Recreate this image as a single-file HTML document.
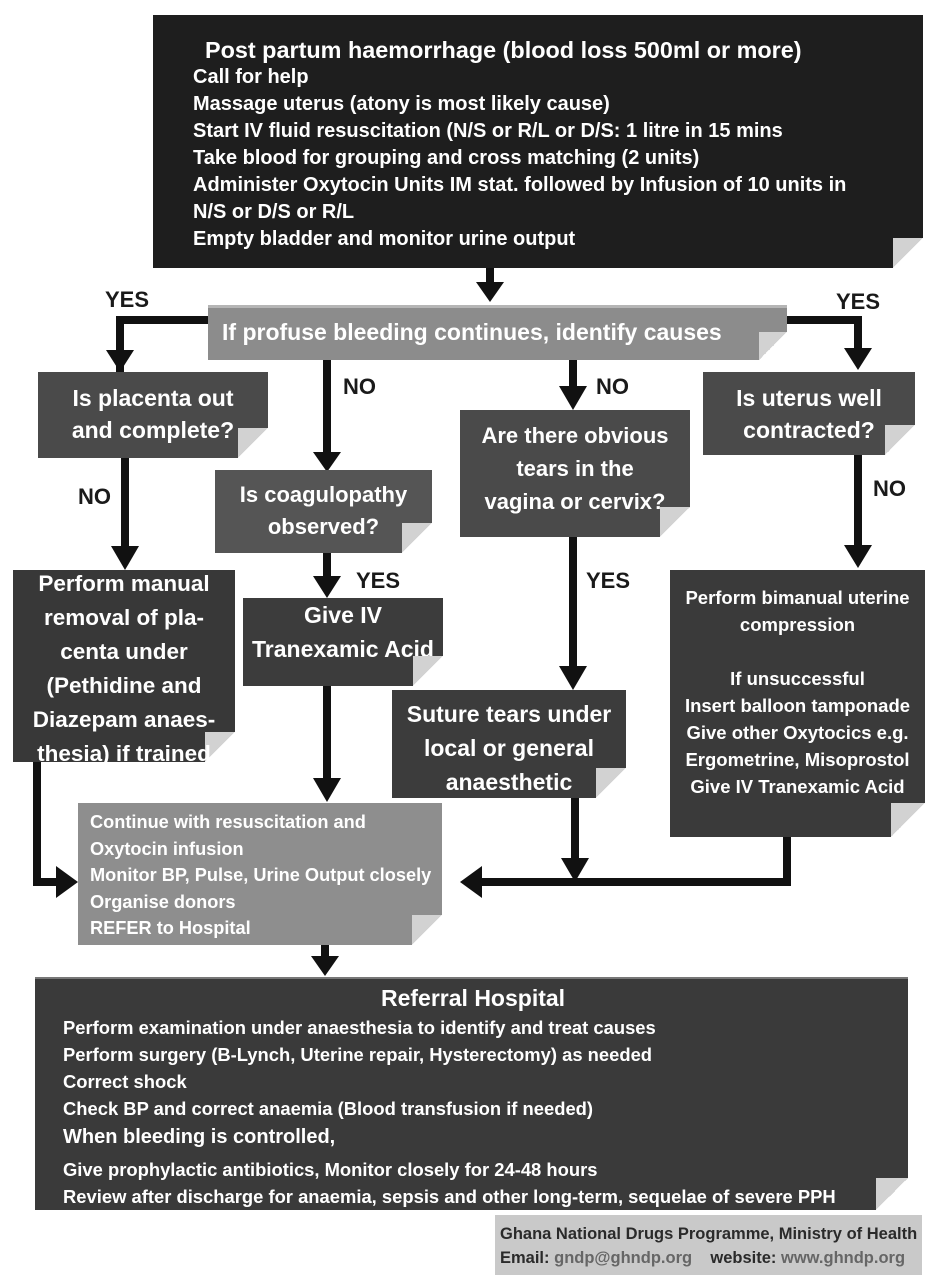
<!DOCTYPE html>
<html><head><meta charset="utf-8"><style>
body{margin:0;width:941px;height:1285px;background:#fff;position:relative;overflow:hidden;font-family:"Liberation Sans Narrow","Liberation Sans",sans-serif;font-weight:bold;color:#fff}
.b{position:absolute}
.f{position:absolute;right:0;bottom:0;width:30px;height:30px;background:linear-gradient(to bottom right,#d2d2d2 50%,#fff 50%)}
.t{position:absolute;white-space:nowrap}
.c{text-align:center;white-space:nowrap}
.lbl{position:absolute;color:#1a1a1a;font-size:22px}
</style></head><body>
<svg class="b" style="left:0;top:0" width="941" height="1285">
<g stroke="#111" stroke-width="8" fill="none">
<line x1="490" y1="265" x2="490" y2="285"/>
<polyline points="120,372 120,320 210,320"/>
<polyline points="787,320 858,320 858,350"/>
<line x1="327" y1="360" x2="327" y2="455"/>
<line x1="573" y1="360" x2="573" y2="390"/>
<line x1="125" y1="458" x2="125" y2="550"/>
<line x1="858" y1="455" x2="858" y2="548"/>
<line x1="327" y1="553" x2="327" y2="580"/>
<line x1="573" y1="537" x2="573" y2="670"/>
<line x1="327" y1="686" x2="327" y2="780"/>
<line x1="575" y1="798" x2="575" y2="862"/>
<polyline points="787,837 787,882 478,882"/>
<polyline points="37,762 37,882 60,882"/>
<line x1="325" y1="945" x2="325" y2="960"/>
</g>
<g fill="#111">
<polygon points="476,282 504,282 490,302"/>
<polygon points="106,350 134,350 120,372"/>
<polygon points="844,348 872,348 858,370"/>
<polygon points="313,452 341,452 327,472"/>
<polygon points="559,386 587,386 573,410"/>
<polygon points="111,546 139,546 125,570"/>
<polygon points="844,545 872,545 858,568"/>
<polygon points="313,576 341,576 327,598"/>
<polygon points="559,666 587,666 573,690"/>
<polygon points="313,778 341,778 327,802"/>
<polygon points="561,858 589,858 575,882"/>
<polygon points="482,866 482,898 460,882"/>
<polygon points="56,866 56,898 78,882"/>
<polygon points="311,956 339,956 325,976"/>
</g>
</svg>

<div class="b" style="left:153px;top:15px;width:770px;height:253px;background:#1e1e1e"><div class="f"></div>
<div class="t" style="left:52px;top:22px;font-size:23.4px">Post partum haemorrhage (blood loss 500ml or more)</div>
<div style="position:absolute;left:40px;top:49px;font-size:20px;line-height:27px;white-space:nowrap">Call for help<br>Massage uterus (atony is most likely cause)<br>Start IV fluid resuscitation (N/S or R/L or D/S: 1 litre in 15 mins<br>Take blood for grouping and cross matching (2 units)<br>Administer Oxytocin Units IM stat. followed by Infusion of 10 units in<br>N/S or D/S or R/L<br>Empty bladder and monitor urine output</div>
</div>

<div class="b" style="left:208px;top:305px;width:579px;height:55px;background:#8c8c8c;border-top:3px solid #b5b5b5;box-sizing:border-box"><div class="f" style="width:28px;height:28px"></div>
<div class="t" style="left:14px;top:11px;font-size:23px">If profuse bleeding continues, identify causes</div></div>

<div class="lbl" style="left:105px;top:287px">YES</div>
<div class="lbl" style="left:836px;top:289px">YES</div>
<div class="lbl" style="left:343px;top:374px">NO</div>
<div class="lbl" style="left:596px;top:374px">NO</div>
<div class="lbl" style="left:78px;top:484px">NO</div>
<div class="lbl" style="left:873px;top:476px">NO</div>
<div class="lbl" style="left:356px;top:568px">YES</div>
<div class="lbl" style="left:586px;top:568px">YES</div>

<div class="b c" style="left:38px;top:372px;width:230px;height:86px;background:#4a4a4a;font-size:23px;line-height:32px;padding-top:10px;box-sizing:border-box"><div class="f"></div>Is placenta out<br>and complete?</div>
<div class="b c" style="left:703px;top:372px;width:212px;height:83px;background:#4a4a4a;font-size:23px;line-height:32px;padding-top:10px;box-sizing:border-box"><div class="f"></div>Is uterus well<br>contracted?</div>
<div class="b c" style="left:215px;top:470px;width:217px;height:83px;background:#555;font-size:22px;line-height:32px;padding-top:9px;box-sizing:border-box"><div class="f"></div>Is coagulopathy<br>observed?</div>
<div class="b c" style="left:460px;top:410px;width:230px;height:127px;background:#4a4a4a;font-size:22px;line-height:33px;padding-top:9px;box-sizing:border-box"><div class="f"></div>Are there obvious<br>tears in the<br>vagina or cervix?</div>
<div class="b c" style="left:13px;top:570px;width:222px;height:192px;background:#383838;font-size:22.5px;line-height:34px;box-sizing:border-box"><div class="f"></div><div style="position:relative;top:-3px">Perform manual<br>removal of pla-<br>centa under<br>(Pethidine and<br>Diazepam anaes-<br>thesia) if trained</div></div>
<div class="b c" style="left:243px;top:598px;width:200px;height:88px;background:#3c3c3c;font-size:23px;line-height:34px;box-sizing:border-box"><div class="f"></div>Give IV<br>Tranexamic Acid</div>
<div class="b c" style="left:392px;top:690px;width:234px;height:108px;background:#3c3c3c;font-size:23px;line-height:34px;padding-top:7px;box-sizing:border-box"><div class="f"></div>Suture tears under<br>local or general<br>anaesthetic</div>
<div class="b c" style="left:670px;top:570px;width:255px;height:267px;background:#3a3a3a;font-size:18.5px;line-height:27px;padding-top:14px;box-sizing:border-box"><div class="f" style="width:34px;height:34px"></div>Perform bimanual uterine<br>compression<br><br>If unsuccessful<br>Insert balloon tamponade<br>Give other Oxytocics e.g.<br>Ergometrine, Misoprostol<br>Give IV Tranexamic Acid</div>

<div class="b" style="left:78px;top:803px;width:364px;height:142px;background:#8e8e8e;font-size:18.2px;line-height:26.5px;padding:6px 0 0 12px;box-sizing:border-box;white-space:nowrap"><div class="f"></div>Continue with resuscitation and<br>Oxytocin infusion<br>Monitor BP, Pulse, Urine Output closely<br>Organise donors<br>REFER to Hospital</div>

<div class="b" style="left:35px;top:977px;width:873px;height:233px;background:#3a3a3a;border-top:2px solid #777;box-sizing:border-box"><div class="f" style="width:32px;height:32px"></div>
<div class="t" style="left:346px;top:6px;font-size:23px">Referral Hospital</div>
<div style="position:absolute;left:28px;top:35px;font-size:18.4px;line-height:27px;white-space:nowrap">Perform examination under anaesthesia to identify and treat causes<br>Perform surgery (B-Lynch, Uterine repair, Hysterectomy) as needed<br>Correct shock<br>Check BP and correct anaemia (Blood transfusion if needed)</div>
<div class="t" style="left:28px;top:147px;font-size:20px">When bleeding is controlled,</div>
<div style="position:absolute;left:28px;top:177px;font-size:18.4px;line-height:27px;white-space:nowrap">Give prophylactic antibiotics, Monitor closely for 24-48 hours<br>Review after discharge for anaemia, sepsis and other long-term, sequelae of severe PPH</div>
</div>

<div class="b" style="left:495px;top:1215px;width:427px;height:60px;background:#c9c9c9;color:#2a2a2a;font-size:16.5px;line-height:24px;padding:7px 0 0 5px;box-sizing:border-box;white-space:nowrap">Ghana National Drugs Programme, Ministry of Health<br>Email: <span style="color:#666">gndp@ghndp.org</span> &nbsp;&nbsp; website: <span style="color:#666">www.ghndp.org</span></div>
</body></html>
